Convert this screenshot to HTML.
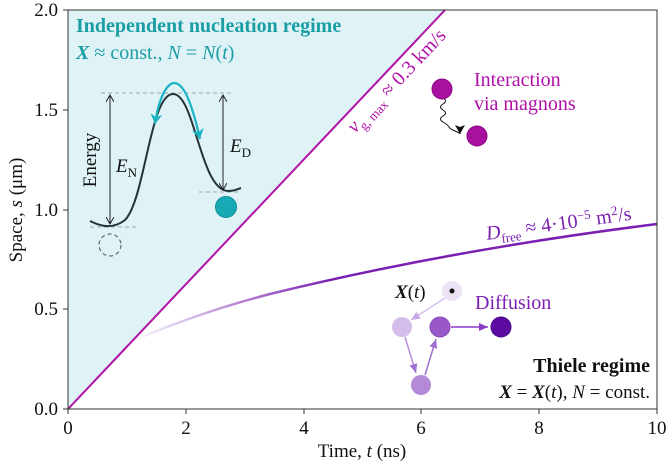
<!DOCTYPE html>
<html><head><meta charset="utf-8"><style>
html,body{margin:0;padding:0;background:#fff;}
svg, svg text, svg tspan{font-family:"Liberation Serif","Times New Roman",Times,"Nimbus Roman","DejaVu Serif",serif !important;}
</style></head><body>
<svg width="670" height="468" viewBox="0 0 670 468" xmlns="http://www.w3.org/2000/svg">
<defs>
<linearGradient id="pg" x1="130" y1="0" x2="330" y2="0" gradientUnits="userSpaceOnUse">
<stop offset="0" stop-color="#7a1fb0" stop-opacity="0"/>
<stop offset="1" stop-color="#7a1fb0" stop-opacity="1"/>
</linearGradient>
<marker id="ak" markerWidth="8" markerHeight="8" refX="7" refY="4" orient="auto-start-reverse" markerUnits="userSpaceOnUse"><path d="M0,0 L7,4 L0,8" fill="none" stroke="#222" stroke-width="1"/></marker>
<marker id="ac" markerWidth="12" markerHeight="12" refX="10" refY="6" orient="auto-start-reverse" markerUnits="userSpaceOnUse"><path d="M0,0 L10,6 L0,12 L3,6z" fill="#1ab4c4"/></marker>
<marker id="ab" markerWidth="10" markerHeight="10" refX="9" refY="5" orient="auto" markerUnits="userSpaceOnUse"><path d="M0,0 L9,5 L0,10 L2,5z" fill="#111"/></marker>
<marker id="ap" markerWidth="10" markerHeight="10" refX="9" refY="5" orient="auto" markerUnits="userSpaceOnUse"><path d="M0,1 L9,5 L0,9z" fill="#8a3cc8"/></marker>
<marker id="apl" markerWidth="10" markerHeight="10" refX="9" refY="5" orient="auto" markerUnits="userSpaceOnUse"><path d="M0,1 L9,5 L0,9z" fill="#c9a6e4"/></marker>
<marker id="apm" markerWidth="10" markerHeight="10" refX="9" refY="5" orient="auto" markerUnits="userSpaceOnUse"><path d="M0,1 L9,5 L0,9z" fill="#a070d0"/></marker>
</defs>
<polygon points="68,409 445,10 68,10" fill="#dff3f7"/>
<path d="M130,342 Q200,312 270,294 Q450,250 657,224" fill="none" stroke="url(#pg)" stroke-width="2.5"/>
<line x1="68" y1="409" x2="445" y2="10" stroke="#b010a8" stroke-width="2"/>
<rect x="68" y="10" width="589" height="399" fill="none" stroke="#333" stroke-width="1"/>
<g stroke="#333" stroke-width="1">
<line x1="68" y1="409" x2="68" y2="414"/><line x1="186" y1="409" x2="186" y2="414"/><line x1="304" y1="409" x2="304" y2="414"/><line x1="421" y1="409" x2="421" y2="414"/><line x1="539" y1="409" x2="539" y2="414"/><line x1="657" y1="409" x2="657" y2="414"/>
<line x1="63" y1="409" x2="68" y2="409"/><line x1="63" y1="309" x2="68" y2="309"/><line x1="63" y1="210" x2="68" y2="210"/><line x1="63" y1="110" x2="68" y2="110"/><line x1="63" y1="10" x2="68" y2="10"/>
</g>
<g font-size="19" fill="#111" text-anchor="middle">
<text x="68" y="434">0</text><text x="186" y="434">2</text><text x="304" y="434">4</text><text x="421" y="434">6</text><text x="539" y="434">8</text><text x="657" y="434">10</text>
<text x="362" y="457">Time, <tspan font-style="italic">t</tspan> (ns)</text>
</g>
<g font-size="19" fill="#111" text-anchor="end">
<text x="58" y="415">0.0</text><text x="58" y="315">0.5</text><text x="58" y="216">1.0</text><text x="58" y="116">1.5</text><text x="58" y="16">2.0</text>
</g>
<text transform="translate(22,210) rotate(-90)" font-size="19" text-anchor="middle" fill="#111">Space, <tspan font-style="italic">s</tspan> (μm)</text>
<text x="76" y="32" font-size="20" font-weight="bold" fill="#1a9ea4">Independent nucleation regime</text>
<text x="76" y="59" font-size="20" fill="#1a9ea4"><tspan font-weight="bold" font-style="italic">X</tspan> ≈ const., <tspan font-style="italic">N</tspan> = <tspan font-style="italic">N</tspan>(<tspan font-style="italic">t</tspan>)</text>
<g stroke="#9aa" stroke-width="1" stroke-dasharray="4,3">
<line x1="101" y1="93" x2="233" y2="93"/><line x1="90" y1="227" x2="139" y2="227"/><line x1="199" y1="192" x2="241" y2="192"/>
</g>
<path d="M90,221 C100,226 112,230 125,220 C145,200 150,94 173,94 C195,94 200,190 228,191 C234,191 238,189 241,188" fill="none" stroke="#263238" stroke-width="2"/>
<line x1="110" y1="224" x2="110" y2="95" stroke="#222" stroke-width="1" marker-end="url(#ak)" marker-start="url(#ak)"/>
<line x1="223" y1="190" x2="223" y2="95" stroke="#222" stroke-width="1" marker-end="url(#ak)" marker-start="url(#ak)"/>
<path d="M155,124 C160,90 170,83 174,83 C182,83 190,95 200,139" fill="none" stroke="#1ab4c4" stroke-width="2.2" marker-start="url(#ac)" marker-end="url(#ac)"/>
<text transform="translate(96,160) rotate(-90)" font-size="19" text-anchor="middle" fill="#111">Energy</text>
<text x="116" y="172" font-size="19" font-style="italic" fill="#111">E<tspan font-size="13" font-style="normal" dy="5">N</tspan></text>
<text x="230" y="152" font-size="19" font-style="italic" fill="#111">E<tspan font-size="13" font-style="normal" dy="5">D</tspan></text>
<circle cx="226" cy="207" r="10.5" fill="#17aab4" stroke="#0e8c96" stroke-width="1"/>
<circle cx="110" cy="245" r="11" fill="none" stroke="#667" stroke-width="1.2" stroke-dasharray="4,3"/>
<text transform="translate(355,134) rotate(-46.7)" font-size="20" fill="#b010a8"><tspan font-style="italic">v</tspan><tspan font-size="13" dy="5">g, max</tspan><tspan dy="-5"> ≈ 0.3 km/s</tspan></text>
<path d="M443,98 q5,3 0,6 t0,6 t0,6 t0,6 t6,5 t6,4 t5,3" fill="none" stroke="#111" stroke-width="1" marker-end="url(#ab)"/>
<circle cx="442" cy="89" r="10" fill="#a8109e" stroke="#8c0a86" stroke-width="1"/>
<circle cx="477" cy="136" r="10" fill="#a8109e" stroke="#8c0a86" stroke-width="1"/>
<text x="474" y="86" font-size="20" fill="#b010a8">Interaction</text>
<text x="474" y="110" font-size="20" fill="#b010a8">via magnons</text>
<text transform="translate(487,240) rotate(-8)" font-size="20" fill="#7a1fb0"><tspan font-style="italic">D</tspan><tspan font-size="13" dy="5">free</tspan><tspan dy="-5"> ≈ 4·10</tspan><tspan font-size="13" dy="-7">−5</tspan><tspan dy="7"> m</tspan><tspan font-size="13" dy="-7">2</tspan><tspan dy="7">/s</tspan></text>
<line x1="445" y1="298" x2="411" y2="320" stroke="#d6c0ec" stroke-width="1.5" marker-end="url(#apl)"/>
<line x1="405" y1="337" x2="416" y2="373" stroke="#b890dc" stroke-width="1.5" marker-end="url(#apm)"/>
<line x1="425" y1="375" x2="436" y2="339" stroke="#a070d0" stroke-width="1.5" marker-end="url(#apm)"/>
<line x1="451" y1="327" x2="488" y2="327" stroke="#8a3cc8" stroke-width="1.5" marker-end="url(#ap)"/>
<circle cx="452" cy="291" r="10" fill="#ede2f6"/>
<circle cx="452" cy="291" r="2.5" fill="#111"/>
<circle cx="402" cy="327" r="10" fill="#d4bde9"/>
<circle cx="421" cy="385" r="10" fill="#b48ad8"/>
<circle cx="440" cy="327" r="10" fill="#9858c8" stroke="#8a48bc" stroke-width="1"/>
<circle cx="501" cy="327" r="10" fill="#5c0aa0" stroke="#4a0888" stroke-width="1"/>
<text x="395" y="298" font-size="19" fill="#111"><tspan font-weight="bold" font-style="italic">X</tspan>(<tspan font-style="italic">t</tspan>)</text>
<text x="475" y="309" font-size="20" fill="#7a1fb0">Diffusion</text>
<text x="650" y="372" font-size="20" font-weight="bold" fill="#111" text-anchor="end">Thiele regime</text>
<text x="650" y="398" font-size="19" fill="#111" text-anchor="end"><tspan font-weight="bold" font-style="italic">X</tspan> = <tspan font-weight="bold" font-style="italic">X</tspan>(<tspan font-style="italic">t</tspan>), <tspan font-style="italic">N</tspan> = const.</text>
</svg>
</body></html>
